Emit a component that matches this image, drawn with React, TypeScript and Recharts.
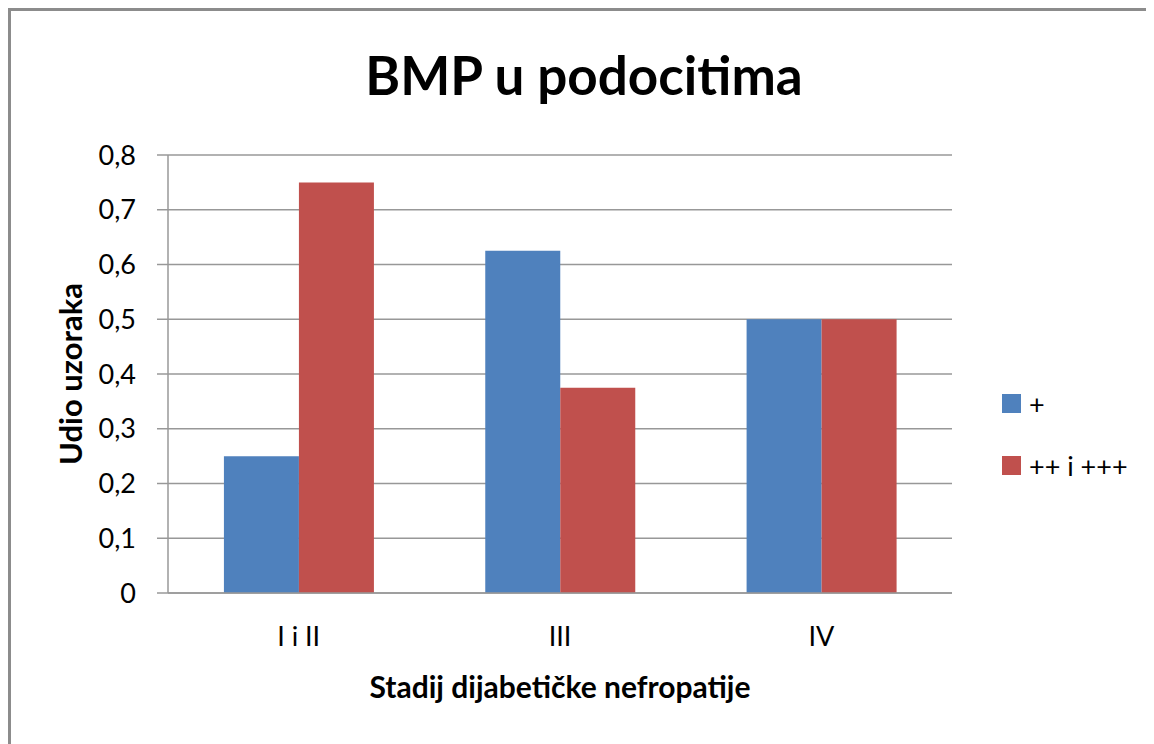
import { Bar, BarChart, CartesianGrid, XAxis, YAxis } from "recharts";

const stages = ["I i II", "III", "IV"];
const plusShare = [0.25, 0.625, 0.5];
const highShare = [0.75, 0.375, 0.5];
const yTicks = [0, 0.1, 0.2, 0.3, 0.4, 0.5, 0.6, 0.7, 0.8];
const seriesNames = ["+", "++ i +++"];

const BLUE = "#4f81bd";
const RED = "#c0504d";
const GRID = "#989898";
const FONT = "Lato, 'Open Sans', sans-serif";

const data = stages.map((stage, i) => ({
  stage,
  plus: plusShare[i],
  high: highShare[i],
}));

const fmt = (v: number) => String(v).replace(".", ",");

// legend sits outside the chart so it doesn't shrink the plot area
function LegendBox() {
  const items = [
    { label: seriesNames[0], color: BLUE },
    { label: seriesNames[1], color: RED },
  ];
  return (
    <div
      style={{
        position: "absolute",
        left: 991,
        top: 383,
        fontFamily: FONT,
        fontSize: 27,
        color: "#000",
      }}
    >
      {items.map((it) => (
        <div
          key={it.label}
          style={{ display: "flex", alignItems: "center", height: 19, marginBottom: 43 }}
        >
          <span
            style={{ width: 19, height: 19, background: it.color, display: "inline-block", marginRight: 8 }}
          />
          <span style={{ lineHeight: "19px", whiteSpace: "nowrap" }}>{it.label}</span>
        </div>
      ))}
    </div>
  );
}

export default function App() {
  return (
    <>
      <style>{"html,body{overflow:hidden}"}</style>
      <div
        style={{
          position: "relative",
          width: 1160,
          height: 740,
          boxSizing: "border-box",
          borderTop: "3px solid #8c8c8c",
          borderLeft: "3px solid #8c8c8c",
          background: "#fff",
        }}
      >
        <BarChart
          width={1143}
          height={733}
          data={data}
          margin={{ top: 144, right: 202, bottom: 31, left: 0 }}
          barCategoryGap="21.4%"
          barGap={0}
        >
          <text
            x={573}
            y={84}
            textAnchor="middle"
            style={{ fontFamily: FONT, fontSize: 53, fontWeight: 700, fill: "#000" }}
          >
            BMP u podocitima
          </text>
          <CartesianGrid horizontal vertical={false} stroke={GRID} strokeWidth={1.5} />
          <XAxis
            dataKey="stage"
            height={120}
            tickLine={false}
            tickSize={0}
            tickMargin={34}
            axisLine={{ stroke: GRID, strokeWidth: 1.5 }}
            tick={{ fontFamily: FONT, fontSize: 27, fill: "#000" }}
            label={{
              value: "Stadij dijabetičke nefropatije",
              position: "insideBottom",
              offset: 15,
              style: { fontFamily: FONT, fontSize: 30, fontWeight: 700, fill: "#000" },
            }}
          />
          <YAxis
            width={157}
            domain={[0, 0.8]}
            ticks={yTicks}
            tickFormatter={fmt}
            tickSize={11}
            tickMargin={21}
            tickLine={{ stroke: GRID, strokeWidth: 1.5 }}
            axisLine={{ stroke: GRID, strokeWidth: 1.5 }}
            tick={{ fontFamily: FONT, fontSize: 27, fill: "#000" }}
            label={{
              value: "Udio uzoraka",
              angle: -90,
              position: "insideLeft",
              offset: 60,
              style: { fontFamily: FONT, fontSize: 31, fontWeight: 700, fill: "#000", textAnchor: "middle" },
            }}
          />
          <Bar dataKey="plus" name={seriesNames[0]} fill={BLUE} isAnimationActive={false} />
          <Bar dataKey="high" name={seriesNames[1]} fill={RED} isAnimationActive={false} />
        </BarChart>
        <LegendBox />
      </div>
    </>
  );
}
